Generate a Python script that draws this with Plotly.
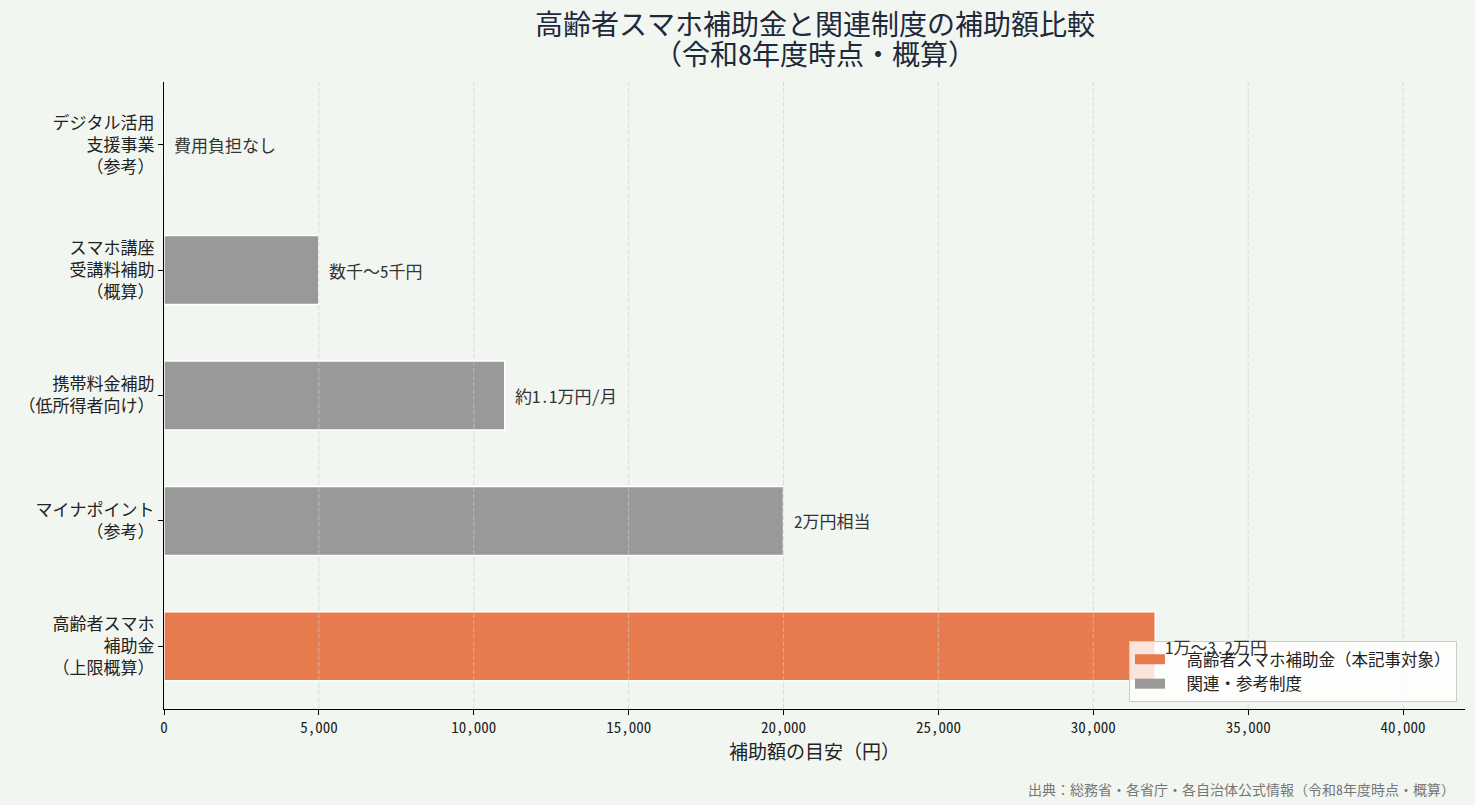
import plotly.graph_objects as go

categories = [
    "高齢者スマホ<br>補助金<br>（上限概算）",
    "マイナポイント<br>（参考）",
    "携帯料金補助<br>（低所得者向け）",
    "スマホ講座<br>受講料補助<br>（概算）",
    "デジタル活用<br>支援事業<br>（参考）",
]
values = [32000, 20000, 11000, 5000, 0]
value_labels = ["1万〜3.2万円", "2万円相当", "約1.1万円/月", "数千〜5千円", "費用負担なし"]
is_main = [True, False, False, False, False]
legend_names = ["高齢者スマホ補助金（本記事対象）", "関連・参考制度"]
x_ticks = [0, 5000, 10000, 15000, 20000, 25000, 30000, 35000, 40000]
title_lines = ["高齢者スマホ補助金と関連制度の補助額比較", "（令和8年度時点・概算）"]

ORANGE = "#E87B4E"
GRAY = "#999999"
BG = "#F2F6F1"
FONT = "Noto Sans Mono CJK JP, Noto Sans CJK JP, sans-serif"

fig = go.Figure()
fig.add_trace(go.Bar(
    y=[c for c, m in zip(categories, is_main) if m],
    x=[v for v, m in zip(values, is_main) if m],
    orientation="h", name=legend_names[0], width=0.55, showlegend=False,
    marker=dict(color=ORANGE, line=dict(color="white", width=1.5)),
))
fig.add_trace(go.Bar(
    y=[c for c, m in zip(categories, is_main) if not m],
    x=[v for v, m in zip(values, is_main) if not m],
    orientation="h", name=legend_names[1], width=0.55, showlegend=False,
    marker=dict(color=GRAY, line=dict(color="white", width=1.5)),
))
# legend entries with wide patches
for name, col in zip(legend_names, [ORANGE, GRAY]):
    fig.add_trace(go.Scatter(x=[None], y=[None], mode="lines",
                             name="&nbsp;&nbsp;" + name,
                             line=dict(color=col, width=12)))

# grid lines drawn above bars (as in the reference)
for t in x_ticks[1:]:
    fig.add_shape(type="line", xref="x", yref="paper", x0=t, x1=t, y0=0, y1=1,
                  layer="above",
                  line=dict(color="rgba(200,205,200,0.6)", width=1, dash="5px,2px"))

for c, v, t in zip(categories, values, value_labels):
    fig.add_annotation(x=v, y=c, text=t, showarrow=False, xanchor="left",
                       xshift=8, font=dict(size=17, color="#333333", family=FONT))

fig.add_annotation(text=title_lines[0], xref="paper", yref="paper",
                   x=0.5, y=(709 - 23) / 627, xanchor="center", yanchor="middle",
                   showarrow=False, font=dict(size=28, color="#1e2a3a", family=FONT))
fig.add_annotation(text=title_lines[1], xref="paper", yref="paper",
                   x=0.5, y=(709 - 53) / 627, xanchor="center", yanchor="middle",
                   showarrow=False, font=dict(size=28, color="#1e2a3a", family=FONT))

fig.add_annotation(
    text="出典：総務省・各省庁・各自治体公式情報（令和8年度時点・概算）",
    xref="paper", yref="paper", x=(1457 - 164) / 1301, y=(709 - 789) / 627,
    xanchor="right", yanchor="middle",
    showarrow=False, font=dict(size=14, color="#777777", family=FONT),
)

fig.update_layout(
    width=1475, height=805,
    paper_bgcolor=BG, plot_bgcolor=BG,
    barmode="overlay",
    margin=dict(l=164, r=10, t=82, b=96),
    font=dict(family=FONT, color="#222222"),
    xaxis=dict(
        range=[0, 42000], tickvals=x_ticks, tickformat=",d",
        showgrid=False,
        showline=True, linecolor="black", linewidth=1,
        ticks="outside", ticklen=5, tickcolor="black",
        tickfont=dict(size=15, color="#222222"),
        title=dict(text="補助額の目安（円）", font=dict(size=19), standoff=6),
        zeroline=False,
    ),
    yaxis=dict(
        categoryorder="array", categoryarray=categories,
        range=[-0.5, 4.5],
        showgrid=False, showline=True, linecolor="black", linewidth=1,
        ticks="outside", ticklen=5, tickcolor="black",
        tickfont=dict(size=17, color="#222222"),
        zeroline=False,
    ),
    legend=dict(
        x=(1457 - 164) / 1301, y=(709 - 702) / 627, xanchor="right", yanchor="bottom",
        bgcolor="rgba(255,255,255,0.8)", bordercolor="#cccccc", borderwidth=1,
        font=dict(size=16.5, color="#222222"), tracegroupgap=0,
    ),
    showlegend=True,
)

fig.write_html("out.html")
